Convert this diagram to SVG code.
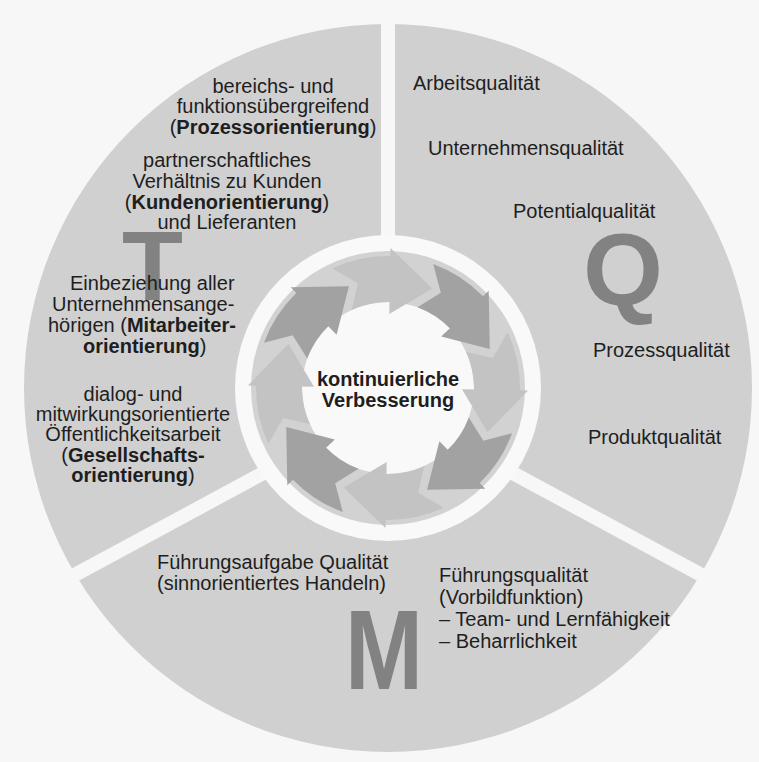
<svg xmlns="http://www.w3.org/2000/svg" width="759" height="762" viewBox="0 0 759 762">
<style>
.t{font-family:"Liberation Sans",Arial,sans-serif;font-size:20px;fill:#1e1e1e}
.b{font-weight:bold}
.big{font-family:"Liberation Sans",Arial,sans-serif;font-weight:bold;fill:#828282}
.gap{stroke:#f7f7f7;stroke-width:14;fill:none}
.dark{fill:#a2a2a2}
.light{fill:#c3c3c3}
</style>
<defs>
<path id="arr" d="M124.04,-45.15 L107.0,-20.8 L80.81,-29.41 A86,86 0 0,1 85.53,8.99 L73.59,7.74 L95.33,52.84 L139.23,14.63 L131.28,13.8 A132,132 0 0,0 124.04,-45.15 Z"/>
</defs>
<rect width="759" height="762" fill="#f7f7f7"/>
<g id="segments">
<circle cx="388" cy="388" r="364" fill="#d0d0d0"/>
</g>
<g id="letters">
<text class="big" x="122" y="300" font-size="98" textLength="61" lengthAdjust="spacingAndGlyphs">T</text>
<text class="big" x="583" y="305" font-size="102" textLength="80" lengthAdjust="spacingAndGlyphs">Q</text>
<text class="big" x="345" y="689" font-size="114" textLength="78" lengthAdjust="spacingAndGlyphs">M</text>
</g>
<g id="connectors">
<line class="gap" x1="388" y1="10" x2="388" y2="240"/>
<line class="gap" x1="269" y1="470" x2="56" y2="585"/>
<line class="gap" x1="507" y1="470" x2="720" y2="585"/>
</g>
<g id="cycle">
<circle cx="388" cy="388" r="153" fill="#f9f9f9"/>
<circle cx="388" cy="388" r="137" fill="#d2d2d2"/>
<circle cx="388" cy="388" r="86" fill="#f9f9f9"/>
<use href="#arr" class="light" transform="translate(388,388) rotate(265)"/>
<use href="#arr" class="dark" transform="translate(388,388) rotate(310)"/>
<use href="#arr" class="light" transform="translate(388,388) rotate(355)"/>
<use href="#arr" class="dark" transform="translate(388,388) rotate(40)"/>
<use href="#arr" class="light" transform="translate(388,388) rotate(85)"/>
<use href="#arr" class="dark" transform="translate(388,388) rotate(130)"/>
<use href="#arr" class="light" transform="translate(388,388) rotate(175)"/>
<use href="#arr" class="dark" transform="translate(388,388) rotate(220)"/>
</g>
<g id="center">
<text class="t b" x="388" y="386" text-anchor="middle">kontinuierliche</text>
<text class="t b" x="388" y="407" text-anchor="middle">Verbesserung</text>
</g>
<g id="prozess">
<text class="t" x="273" y="93" text-anchor="middle">bereichs- und</text>
<text class="t" x="273" y="113" text-anchor="middle">funktionsübergreifend</text>
<text class="t" x="273" y="134" text-anchor="middle">(<tspan class="b">Prozessorientierung</tspan>)</text>
</g>
<g id="kunden">
<text class="t" x="227" y="167" text-anchor="middle">partnerschaftliches</text>
<text class="t" x="227" y="188" text-anchor="middle">Verhältnis zu Kunden</text>
<text class="t" x="227" y="209" text-anchor="middle">(<tspan class="b">Kundenorientierung</tspan>)</text>
<text class="t" x="227" y="229" text-anchor="middle">und Lieferanten</text>
</g>
<g id="mitarbeiter">
<text class="t" x="70" y="290">Einbeziehung aller</text>
<text class="t" x="52" y="311">Unternehmensange-</text>
<text class="t" x="48" y="332">hörigen (<tspan class="b">Mitarbeiter-</tspan></text>
<text class="t" x="83" y="353"><tspan class="b">orientierung</tspan>)</text>
</g>
<g id="gesellschaft">
<text class="t" x="133" y="401" text-anchor="middle">dialog- und</text>
<text class="t" x="133" y="421" text-anchor="middle">mitwirkungsorientierte</text>
<text class="t" x="133" y="441" text-anchor="middle">Öffentlichkeitsarbeit</text>
<text class="t" x="133" y="462" text-anchor="middle">(<tspan class="b">Gesellschafts-</tspan></text>
<text class="t" x="133" y="482" text-anchor="middle"><tspan class="b">orientierung</tspan>)</text>
</g>
<g id="qualitaet">
<text class="t" x="413" y="90">Arbeitsqualität</text>
<text class="t" x="428" y="155">Unternehmensqualität</text>
<text class="t" x="513" y="218">Potentialqualität</text>
<text class="t" x="593" y="357">Prozessqualität</text>
<text class="t" x="588" y="444">Produktqualität</text>
</g>
<g id="management">
<text class="t" x="157" y="569">Führungsaufgabe Qualität</text>
<text class="t" x="157" y="590">(sinnorientiertes Handeln)</text>
<text class="t" x="439" y="582">Führungsqualität</text>
<text class="t" x="439" y="604">(Vorbildfunktion)</text>
<text class="t" x="439" y="626">– Team- und Lernfähigkeit</text>
<text class="t" x="439" y="648">– Beharrlichkeit</text>
</g>
</svg>
